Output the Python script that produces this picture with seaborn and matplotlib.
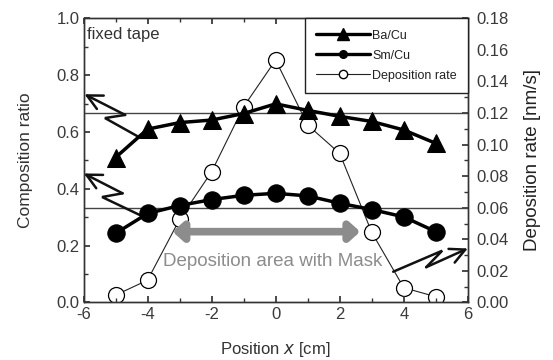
import numpy as np
import pandas as pd
import seaborn as sns
import matplotlib
matplotlib.use("Agg")
import matplotlib.pyplot as plt
from matplotlib.lines import Line2D
from matplotlib.ticker import MultipleLocator

# Measured profiles along the tape
position = [-5, -4, -3, -2, -1, 0, 1, 2, 3, 4, 5]
ba_cu = [0.51, 0.61, 0.633, 0.642, 0.665, 0.699, 0.676, 0.655, 0.637, 0.607, 0.560]
sm_cu = [0.243, 0.313, 0.341, 0.362, 0.377, 0.384, 0.375, 0.349, 0.327, 0.301, 0.249]
dep_rate = [0.0046, 0.0141, 0.0526, 0.0828, 0.124, 0.1536, 0.1124, 0.0944, 0.0444, 0.0093, 0.0036]

# Stoichiometric reference levels
ref_levels = [2 / 3, 1 / 3]

# Masked deposition window
mask_area = [-3.22, 2.64]

xticks = [-6, -4, -2, 0, 2, 4, 6]
series_labels = ["Ba/Cu", "Sm/Cu", "Deposition rate"]

sns.set_theme(style="ticks")
plt.rcParams["font.family"] = ["Liberation Sans", "DejaVu Sans"]
plt.rcParams["axes.edgecolor"] = "#333333"
plt.rcParams["xtick.color"] = "#333333"
plt.rcParams["ytick.color"] = "#333333"
plt.rcParams["xtick.labelcolor"] = "#3a3a3a"
plt.rcParams["ytick.labelcolor"] = "#3a3a3a"

df = pd.DataFrame({"x": position, "ba": ba_cu, "sm": sm_cu, "rate": dep_rate})

fig = plt.figure(figsize=(5.53, 3.60), dpi=100)
ax = fig.add_axes([0.151, 0.160, 0.695, 0.789])
ax2 = ax.twinx()

# Deposition rate on the right axis (drawn underneath)
sns.lineplot(data=df, x="x", y="rate", ax=ax2, color="#222222", lw=0.8,
             marker="o", markersize=11.5, markerfacecolor="white",
             markeredgecolor="black", markeredgewidth=0.9)

# Composition ratios on the left axis
for yv in ref_levels:
    ax.axhline(yv, color="#444444", lw=1.0, zorder=1)
sns.lineplot(data=df, x="x", y="ba", ax=ax, color="black", lw=2.5,
             marker="^", markersize=13, markeredgecolor="black",
             markerfacecolor="black", zorder=4)
sns.lineplot(data=df, x="x", y="sm", ax=ax, color="black", lw=2.5,
             marker="o", markersize=12.5, markeredgecolor="black",
             markerfacecolor="black", zorder=4)

ax.set_zorder(ax2.get_zorder() + 1)
ax.patch.set_visible(False)

ax.set_xlim(-6, 6)
ax.set_ylim(0, 1.0)
ax2.set_ylim(0, 0.18)
ax.set_xticks(xticks)
ax.set_xticklabels([str(t) for t in xticks])
ax.xaxis.set_minor_locator(MultipleLocator(1))
ax.yaxis.set_minor_locator(MultipleLocator(0.1))
ax.set_yticks(np.round(np.arange(0, 1.01, 0.2), 1))
ax.set_yticklabels([f"{v:.1f}" for v in np.arange(0, 1.01, 0.2)])
ax2.yaxis.set_minor_locator(MultipleLocator(0.01))
ax2.set_yticks(np.round(np.arange(0, 0.181, 0.02), 2))
ax2.set_yticklabels([f"{v:.2f}" for v in np.arange(0, 0.181, 0.02)])

for a in (ax, ax2):
    for s in a.spines.values():
        s.set_linewidth(1.0)
        s.set_color("#333333")
ax.tick_params(axis="both", which="both", direction="in", top=True,
               labelsize=12)
ax.tick_params(axis="x", which="major", length=4, pad=3)
ax.tick_params(axis="x", which="minor", length=3)
ax.tick_params(axis="y", which="major", length=4, pad=3)
ax.tick_params(axis="y", which="minor", length=3)
ax2.tick_params(axis="y", which="both", direction="in", labelsize=12, pad=6)
ax2.tick_params(axis="y", which="major", length=4)
ax2.tick_params(axis="y", which="minor", length=3)

ax.set_xlabel("Position $\\mathit{x}$ [cm]", fontsize=12, color="#333333",
              labelpad=13)
ax.set_ylabel("Composition ratio", fontsize=12.5, color="#333333",
              labelpad=17)
ax2.set_ylabel("Deposition rate [nm/s]", fontsize=13.5, color="#222222",
               labelpad=11)

ax.text(-5.9, 0.97, "fixed tape", fontsize=12, color="#333333",
        va="top", ha="left")

# Zigzag arrows pointing each series to its axis
def zigzag(axis, pts):
    xs = [p[0] for p in pts[:-1]]
    ys = [p[1] for p in pts[:-1]]
    axis.plot(xs, ys, color="#111111", lw=1.8, solid_joinstyle="miter",
              zorder=3, clip_on=False)
    axis.annotate("", xy=pts[-1], xytext=pts[-2], annotation_clip=False,
                  arrowprops=dict(arrowstyle="->,head_length=0.9,head_width=0.45",
                                  color="#111111", lw=1.8,
                                  shrinkA=0, shrinkB=0), zorder=3)

zigzag(ax, [(-4.33, 0.586), (-5.33, 0.649), (-4.70, 0.660), (-5.97, 0.733)])
zigzag(ax, [(-4.23, 0.307), (-5.42, 0.371), (-4.78, 0.384), (-5.99, 0.454)])
zigzag(ax, [(3.67, 0.108), (5.20, 0.182), (4.70, 0.124), (6.0, 0.190)])

# Masked deposition window
ax.annotate("", xy=(mask_area[0], 0.249), xytext=(mask_area[1], 0.249),
            arrowprops=dict(arrowstyle="<|-|>,head_length=0.5,head_width=0.45",
                            color="#8c8c8c", lw=5.5, shrinkA=0, shrinkB=0),
            zorder=2)
ax.text(-0.09, 0.143, "Deposition area with Mask", fontsize=13.5,
        color="#8c8c8c", ha="center", va="center")

handles = [
    Line2D([], [], color="black", lw=2.4, marker="^", markersize=8),
    Line2D([], [], color="black", lw=2.4, marker="o", markersize=5.5),
    Line2D([], [], color="#222222", lw=0.8, marker="o", markersize=6,
           markerfacecolor="white", markeredgecolor="black"),
]
leg = ax.legend(handles, series_labels, loc="upper right", fontsize=9,
                frameon=True, fancybox=False, borderaxespad=0,
                handlelength=4.3, handletextpad=0.15, borderpad=0.9,
                labelspacing=0.65, edgecolor="#222222")
leg.get_frame().set_linewidth(1.0)
leg.get_frame().set_alpha(1)
leg.set_zorder(10)
for t in leg.get_texts():
    t.set_color("#222222")

fig.savefig("out.png", dpi=100)
